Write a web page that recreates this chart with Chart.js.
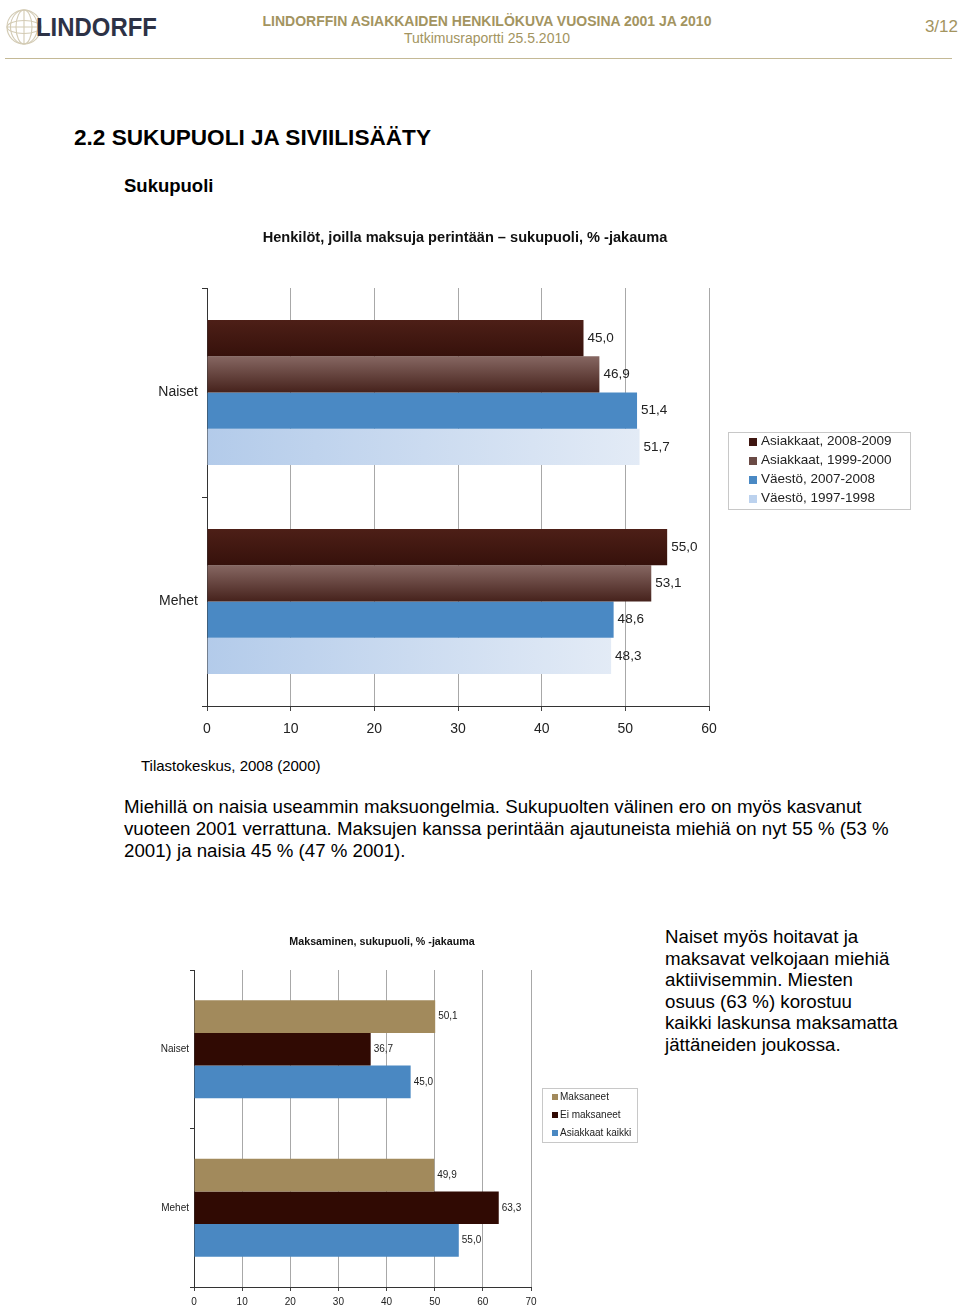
<!DOCTYPE html>
<html lang="fi">
<head>
<meta charset="utf-8">
<title>Lindorff – sukupuoli ja siviilisääty</title>
<script src="https://cdn.jsdelivr.net/npm/chart.js@4.4.1/dist/chart.umd.min.js"></script>
<style>
  html, body { margin: 0; padding: 0; }
  body {
    width: 960px; height: 1306px; overflow: hidden; position: relative;
    background: #fff; color: #000;
    font-family: 'Liberation Sans', Arial, sans-serif;
  }
  .abs { position: absolute; white-space: nowrap; }
  .khaki { color: #a3945f; }
  #logo { left: 36px; top: 11px; font-size: 26px; font-weight: bold; color: #2d3246;
          line-height: 32px; transform: scaleX(0.92); transform-origin: left center; }
  #otsake { left: 0; width: 974px; text-align: center; top: 12px; font-size: 14px; font-weight: bold; line-height: 18px; }
  #alaotsake { left: 0; width: 974px; text-align: center; top: 29px; font-size: 14px; line-height: 18px; }
  #sivu { right: 2px; top: 17px; font-size: 17px; line-height: 20px; }
  #viiva { left: 5px; top: 58px; width: 947px; height: 1px; background: #c4b996; }
  #luku { left: 74px; top: 125px; font-size: 22.6px; font-weight: bold; line-height: 26px; }
  #alaluku { left: 124px; top: 175px; font-size: 18.5px; font-weight: bold; line-height: 22px; }
  #lahde { left: 141px; top: 757px; font-size: 15px; line-height: 18px; }
  #teksti1 { left: 124px; top: 796px; font-size: 18.7px; line-height: 22px; }
  #teksti2 { left: 665px; top: 926px; font-size: 18.7px; line-height: 21.6px; }
  canvas { position: absolute; }
  #kaavio1 { left: 140px; top: 220px; }
  #kaavio2 { left: 140px; top: 925px; }
</style>
</head>
<body>

<svg class="abs" style="left:4px;top:6px" width="40" height="42" viewBox="0 0 40 42">
  <g fill="none" stroke="#d3cbb4" stroke-width="1.1">
    <circle cx="20" cy="21" r="17"/>
    <ellipse cx="20" cy="21" rx="8" ry="17"/>
    <ellipse cx="20" cy="21" rx="13.5" ry="17"/>
    <line x1="20" y1="4" x2="20" y2="38"/>
    <ellipse cx="20" cy="21" rx="17" ry="6.5"/>
    <line x1="3" y1="21" x2="37" y2="21"/>
  </g>
</svg>
<div id="logo" class="abs">LINDORFF</div>
<div id="otsake" class="abs khaki">LINDORFFIN ASIAKKAIDEN HENKILÖKUVA VUOSINA 2001 JA 2010</div>
<div id="alaotsake" class="abs khaki">Tutkimusraportti 25.5.2010</div>
<div id="sivu" class="abs khaki">3/12</div>
<div id="viiva" class="abs"></div>

<div id="luku" class="abs">2.2 SUKUPUOLI JA SIVIILISÄÄTY</div>
<div id="alaluku" class="abs">Sukupuoli</div>

<canvas id="kaavio1" width="790" height="530"></canvas>

<div id="lahde" class="abs">Tilastokeskus, 2008 (2000)</div>
<div id="teksti1" class="abs">Miehillä on naisia useammin maksuongelmia. Sukupuolten välinen ero on myös kasvanut<br>vuoteen 2001 verrattuna. Maksujen kanssa perintään ajautuneista miehiä on nyt 55 % (53 %<br>2001) ja naisia 45 % (47 % 2001).</div>

<canvas id="kaavio2" width="510" height="381"></canvas>

<div id="teksti2" class="abs">Naiset myös hoitavat ja<br>maksavat velkojaan miehiä<br>aktiivisemmin. Miesten<br>osuus (63 %) korostuu<br>kaikki laskunsa maksamatta<br>jättäneiden joukossa.</div>

<script>
// Kaavio 1: henkilöt, joilla maksuja perintään
const kategoriat = ['Naiset', 'Mehet'];
const sarjat1 = ['Asiakkaat, 2008-2009', 'Asiakkaat, 1999-2000', 'Väestö, 2007-2008', 'Väestö, 1997-1998'];
const asiakkaat0809 = [45.0, 55.0];
const asiakkaat9900 = [46.9, 53.1];
const vaesto0708 = [51.4, 48.6];
const vaesto9798 = [51.7, 48.3];
const asteikko1 = { min: 0, max: 60, askel: 10 };

// Kaavio 2: maksaminen sukupuolen mukaan
const sarjat2 = ['Maksaneet', 'Ei maksaneet', 'Asiakkaat kaikki'];
const maksaneet = [50.1, 49.9];
const eiMaksaneet = [36.7, 63.3];
const asiakkaatKaikki = [45.0, 55.0];
const asteikko2 = { min: 0, max: 70, askel: 10 };

const FONTTI = "'Liberation Sans', Arial, sans-serif";

// Excel-tyylinen liukuväri palkille (pysty tai vaaka)
function liukuvari(alku, loppu, vaaka, osuus) {
  return function(ctx) {
    const chart = ctx.chart;
    const xs = chart.scales.x, ys = chart.scales.y;
    if (ctx.type !== 'data' || !xs || !ys || !chart.chartArea) return alku;
    const g = chart.ctx;
    let grad;
    if (vaaka) {
      grad = g.createLinearGradient(xs.getPixelForValue(0), 0, xs.getPixelForValue(ctx.raw) + 1, 0);
    } else {
      const ryhma = (ys.bottom - ys.top) / chart.data.labels.length * osuus;
      const h = ryhma / chart.data.datasets.length;
      const y0 = ys.getPixelForValue(ctx.dataIndex) - ryhma / 2 + h * ctx.datasetIndex;
      grad = g.createLinearGradient(0, y0, 0, y0 + h);
    }
    grad.addColorStop(0, alku);
    grad.addColorStop(1, loppu);
    return grad;
  };
}

// Otsikko omaan kohtaansa
const otsikkoPlugin = {
  id: 'otsikko',
  afterDraw(chart, args, o) {
    const g = chart.ctx;
    g.save();
    g.font = o.font;
    g.fillStyle = '#111';
    g.textAlign = 'center';
    g.textBaseline = 'middle';
    g.fillText(o.text, o.x, o.y);
    g.restore();
  }
};

// Selite kehyksineen kaavion oikealle puolelle
const selitePlugin = {
  id: 'selite',
  afterDraw(chart, args, o) {
    const g = chart.ctx;
    g.save();
    g.strokeStyle = '#c8c8c8';
    g.lineWidth = 1;
    g.strokeRect(o.x + 0.5, o.y + 0.5, o.w, o.h);
    g.font = o.font;
    g.textAlign = 'left';
    g.textBaseline = 'middle';
    chart.data.datasets.forEach((ds, i) => {
      const yy = o.y + o.eka + i * o.rivi;
      g.fillStyle = ds.selitevari;
      g.fillRect(o.merkkiX, Math.round(yy - o.merkki / 2), o.merkki, o.merkki);
      g.fillStyle = '#222';
      g.fillText(ds.label, o.tekstiX, yy);
    });
    g.restore();
  }
};

// Arvot palkkien päihin, desimaalipilkulla
const arvoPlugin = {
  id: 'arvot',
  afterDatasetsDraw(chart, args, o) {
    const g = chart.ctx;
    g.save();
    g.font = o.font;
    g.fillStyle = '#222';
    g.textAlign = 'left';
    g.textBaseline = 'middle';
    chart.data.datasets.forEach((ds, i) => {
      chart.getDatasetMeta(i).data.forEach((bar, j) => {
        g.fillText(ds.data[j].toFixed(1).replace('.', ','), bar.x + o.vali, bar.y);
      });
    });
    g.restore();
  }
};

function asteikot(asteikko, koko, yLeveys, xKorkeus, tikki, xPad, yPad) {
  return {
    x: {
      min: asteikko.min, max: asteikko.max,
      ticks: { stepSize: asteikko.askel, color: '#222', font: { family: FONTTI, size: koko }, padding: xPad },
      grid: { color: '#a8a8a8', lineWidth: 1, drawTicks: true, tickLength: tikki, tickColor: '#444' },
      border: { display: true, color: '#333', width: 1 },
      afterFit: s => { s.height = xKorkeus; }
    },
    y: {
      ticks: { color: '#222', font: { family: FONTTI, size: koko }, padding: yPad },
      grid: { drawOnChartArea: false, drawTicks: true, tickLength: tikki, color: '#333', offset: true },
      border: { display: true, color: '#333', width: 1 },
      afterFit: s => { s.width = yLeveys; }
    }
  };
}

const osuus1 = 0.694;
new Chart(document.getElementById('kaavio1'), {
  type: 'bar',
  data: {
    labels: kategoriat,
    datasets: [
      { label: sarjat1[0], data: asiakkaat0809, selitevari: '#3e1610',
        backgroundColor: liukuvari('#4d1f17', '#36110b', false, osuus1) },
      { label: sarjat1[1], data: asiakkaat9900, selitevari: '#6a4a45',
        backgroundColor: liukuvari('#866762', '#46221c', false, osuus1) },
      { label: sarjat1[2], data: vaesto0708, selitevari: '#4a89c4',
        backgroundColor: '#4a89c4' },
      { label: sarjat1[3], data: vaesto9798, selitevari: '#bcd2ee',
        backgroundColor: liukuvari('#b3cbea', '#e3ebf6', true, osuus1) }
    ].map(d => Object.assign(d, { barPercentage: 1, categoryPercentage: osuus1, borderWidth: 0 }))
  },
  options: {
    indexAxis: 'y',
    responsive: false,
    animation: false,
    devicePixelRatio: 1,
    events: [],
    layout: { padding: { top: 68, right: 221, left: 0, bottom: 0 } },
    scales: asteikot(asteikko1, 14, 67, 44, 5, 10, 4),
    plugins: {
      legend: { display: false },
      tooltip: { enabled: false },
      otsikko: { text: 'Henkilöt, joilla maksuja perintään – sukupuoli, % -jakauma',
                 font: "bold 14.6px " + FONTTI, x: 325, y: 18 },
      selite: { x: 588, y: 212, w: 182, h: 77, eka: 9.5, rivi: 19, merkki: 8,
                merkkiX: 609, tekstiX: 621, font: "13.5px " + FONTTI },
      arvot: { vali: 4, font: "13.5px " + FONTTI }
    }
  },
  plugins: [otsikkoPlugin, selitePlugin, arvoPlugin]
});

const osuus2 = 0.618;
new Chart(document.getElementById('kaavio2'), {
  type: 'bar',
  data: {
    labels: kategoriat,
    datasets: [
      { label: sarjat2[0], data: maksaneet, backgroundColor: '#a28a5c', selitevari: '#a28a5c' },
      { label: sarjat2[1], data: eiMaksaneet, backgroundColor: '#300a03', selitevari: '#300a03' },
      { label: sarjat2[2], data: asiakkaatKaikki, backgroundColor: '#4a88c2', selitevari: '#4a88c2' }
    ].map(d => Object.assign(d, { barPercentage: 1, categoryPercentage: osuus2, borderWidth: 0 }))
  },
  options: {
    indexAxis: 'y',
    responsive: false,
    animation: false,
    devicePixelRatio: 1,
    events: [],
    layout: { padding: { top: 45, right: 119, left: 0, bottom: 0 } },
    scales: asteikot(asteikko2, 10, 54, 19, 4, 5, 1),
    plugins: {
      legend: { display: false },
      tooltip: { enabled: false },
      otsikko: { text: 'Maksaminen, sukupuoli, % -jakauma',
                 font: "bold 10.7px " + FONTTI, x: 242, y: 17 },
      selite: { x: 402, y: 163, w: 95, h: 54, eka: 9, rivi: 18, merkki: 6,
                merkkiX: 412, tekstiX: 420, font: "10px " + FONTTI },
      arvot: { vali: 3, font: "10px " + FONTTI }
    }
  },
  plugins: [otsikkoPlugin, selitePlugin, arvoPlugin]
});
</script>
</body>
</html>
